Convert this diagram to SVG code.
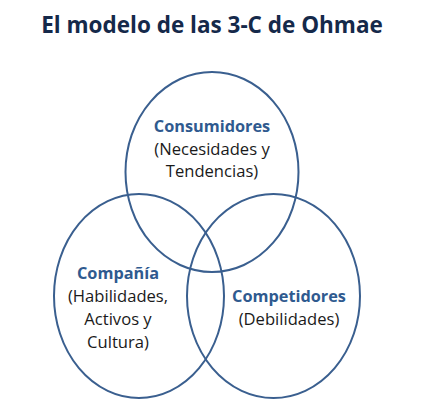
<svg xmlns="http://www.w3.org/2000/svg" width="424" height="403" viewBox="0 0 424 403">
<style>
.c{fill:none;stroke:#3A5F8F;stroke-width:2}
.t{font-family:"Open Sans","Noto Sans",sans-serif;text-anchor:middle}
.h{font-weight:bold;fill:#2F5A8F;font-size:16.3px}
.b{fill:#1a1a1a;font-size:16.6px}
</style>
<rect width="424" height="403" fill="#fff"/>
<text class="t" x="212" y="33" style="font-weight:bold;font-size:22.5px;fill:#15294A">El modelo de las 3-C de Ohmae</text>
<g id="consumidores">
<ellipse class="c" cx="212" cy="172" rx="86.5" ry="100"/>
<text class="t h" x="212" y="132">Consumidores</text>
<text class="t b" x="212" y="155">(Necesidades y</text>
<text class="t b" x="212" y="177">Tendencias)</text>
</g>
<g id="compania">
<ellipse class="c" cx="139" cy="296" rx="85" ry="102"/>
<text class="t h" x="118" y="279">Compañía</text>
<text class="t b" x="118" y="302">(Habilidades,</text>
<text class="t b" x="118" y="325">Activos y</text>
<text class="t b" x="118" y="348">Cultura)</text>
</g>
<g id="competidores">
<ellipse class="c" cx="273.5" cy="296" rx="86.5" ry="102"/>
<text class="t h" x="289" y="302">Competidores</text>
<text class="t b" x="289" y="325">(Debilidades)</text>
</g>
<g id="connectors"/>
</svg>
